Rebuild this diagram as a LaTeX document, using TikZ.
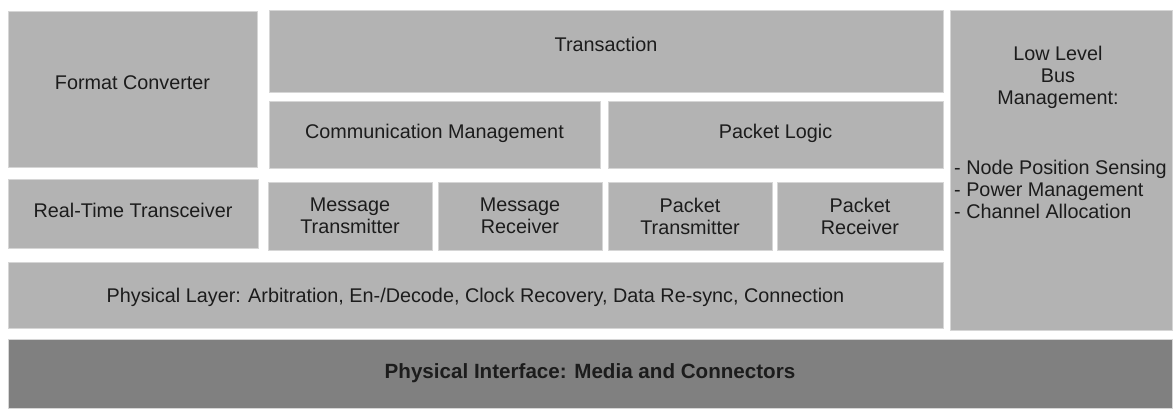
\documentclass[tikz,border=0pt]{standalone}
\usepackage{fontspec}
\setmainfont{Liberation Sans}
\usepackage{tikz}
\usetikzlibrary{positioning}

\definecolor{boxgray}{HTML}{B3B3B3}
\definecolor{darkgray}{HTML}{808080}
\definecolor{edgegray}{HTML}{D6D6D6}
\definecolor{txtgray}{HTML}{1C1C1C}

\tikzset{
  box/.style={fill=boxgray, draw=edgegray, line width=0.7pt, inner sep=0pt, outer sep=0pt,
    text=txtgray, font=\fontsize{19.8}{22}\selectfont, text height=14pt, text depth=14pt},
  box2/.style={box, text height=, text depth=, align=center},
  txt/.style={inner sep=0pt, text=txtgray, font=\fontsize{19.8}{22}\selectfont}
}

\begin{document}
\begin{tikzpicture}[x=1pt,y=-1pt]
\useasboundingbox (0,0) rectangle (1175,408);
%\draw[help lines, step=50] (0,0) grid (1175,408);
% upper layers
\node[box, minimum width=249, minimum height=156, text depth=13pt] (fmt) at (132.5,89) {Format Converter};
\node[box, minimum width=674, minimum height=82] (trans) at (606,51) {Transaction};
\node[box, minimum width=331, minimum height=67, text depth=7pt] (comm) at (434.5,134.5) {Communication Management};
\node[box, minimum width=335, minimum height=67, text depth=7pt] (plogic) at (775.5,134.5) {Packet Logic};
\node[box, minimum width=250, minimum height=69, text depth=7pt] (rtt) at (133,213.5) {Real-Time Transceiver};
\node[box2, minimum width=164, minimum height=68] (mtx) at (350,216) {Message\\Transmitter};
\node[box2, minimum width=164, minimum height=68] (mrx) at (520,216) {Message\\Receiver};
\node[box2, minimum width=164, minimum height=68] (ptx) at (690,216) {Packet\\Transmitter};
\node[box2, minimum width=166, minimum height=68] (prx) at (860,216) {Packet\\Receiver};
\node[box, minimum width=935, minimum height=66, text depth=-2pt] (phys) at (475.5,295)
  {Physical Layer: Arbitration, En-/Decode, Clock Recovery, Data Re-sync, Connection};
% side column
\node[box, minimum width=222, minimum height=320] (llbm) at (1061,170) {};
\node[txt, align=center, anchor=base] (llbm-head) at (1058,104) {Low Level\\Bus\\Management:};
\node[txt, align=left, anchor=base west] (llbm-list) at (954,218)
  {- Node Position Sensing\\- Power Management\\- Channel Allocation};
% bottom
\node[box, fill=darkgray, minimum width=1164, minimum height=69, text depth=5pt,
  font=\fontsize{20.6}{22}\selectfont\bfseries] (phyif) at (590,373.5) {Physical Interface: Media and Connectors};
\end{tikzpicture}
\end{document}
